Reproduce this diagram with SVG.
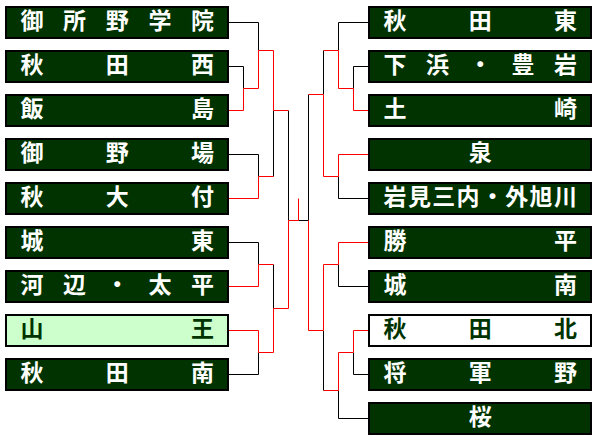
<svg xmlns="http://www.w3.org/2000/svg" width="596" height="441" viewBox="0 0 596 441">
<style>
.b{fill:#003300;stroke:#000;stroke-width:2}
.hl{fill:#CCFFCC;stroke:#000;stroke-width:2}
.wh{fill:#FFFFFF;stroke:#000;stroke-width:2}
.t{font-family:"Noto Sans CJK JP","Noto Sans CJK SC",sans-serif;font-weight:bold;font-size:23px;fill:#FFFFFF;text-anchor:middle}
.d{fill:#003300}
.k{fill:none;stroke:#000;stroke-width:1}
.r{fill:none;stroke:#FF0000;stroke-width:1}
</style>
<rect width="596" height="441" fill="#FFFFFF"/>
<g id="connectors">
<path class="k" d="M228 22.5 H258.5 V50.5 M228 66.5 H243.5 V88.5 M228 154.5 H258.5 V176.5 M273.5 110.5 V176.5 M228 242.5 H258.5 V264.5 M273.5 264.5 V308.5 M258.5 352.5 V374.5 H228 M288.5 110.5 V220.5 M298.5 220.5 H308.5"/>
<path class="k" d="M368 22.5 H338.5 V50.5 M368 66.5 H353.5 V88.5 M323.5 50.5 V94.5 M308.5 94.5 V220.5 M338.5 176.5 V198.5 H368 M338.5 264.5 V286.5 H368 M353.5 352.5 V374.5 H368 M323.5 330.5 V390.5 M338.5 390.5 V418.5 H368"/>
<path class="r" d="M228 110.5 H243.5 V88.5 H258.5 V50.5 H273.5 V110.5 H288.5 M228 198.5 H258.5 V176.5 H273.5 M228 286.5 H258.5 V264.5 H273.5 M228 330.5 H258.5 V352.5 H273.5 V308.5 H288.5 V220.5 H298.5 V198.5"/>
<path class="r" d="M368 110.5 H353.5 V88.5 H338.5 V50.5 H323.5 M368 154.5 H338.5 V176.5 H323.5 V94.5 H308.5 M368 242.5 H338.5 V264.5 H323.5 V330.5 H308.5 V220.5 M368 330.5 H353.5 V352.5 H338.5 V390.5 H323.5"/>
</g>
<g id="L1"><rect class="b" x="6" y="7" width="222" height="31"/><text class="t" x="32 74.6 117.25 159.9 202.5" y="29">御所野学院</text></g>
<g id="L2"><rect class="b" x="6" y="51" width="222" height="31"/><text class="t" x="32 117.25 202.5" y="73">秋田西</text></g>
<g id="L3"><rect class="b" x="6" y="95" width="222" height="31"/><text class="t" x="32 202.5" y="117">飯島</text></g>
<g id="L4"><rect class="b" x="6" y="139" width="222" height="31"/><text class="t" x="32 117.25 202.5" y="161">御野場</text></g>
<g id="L5"><rect class="b" x="6" y="183" width="222" height="31"/><text class="t" x="32 117.25 202.5" y="205">秋大付</text></g>
<g id="L6"><rect class="b" x="6" y="227" width="222" height="31"/><text class="t" x="32 202.5" y="249">城東</text></g>
<g id="L7"><rect class="b" x="6" y="271" width="222" height="31"/><text class="t" x="32 74.6 117.25 159.9 202.5" y="293">河辺・太平</text></g>
<g id="L8"><rect class="hl" x="6" y="315" width="222" height="31"/><text class="t d" x="32 202.5" y="337">山王</text></g>
<g id="L9"><rect class="b" x="6" y="359" width="222" height="31"/><text class="t" x="32 117.25 202.5" y="381">秋田南</text></g>
<g id="R1"><rect class="b" x="369" y="7" width="222" height="31"/><text class="t" x="395 480.25 565.5" y="29">秋田東</text></g>
<g id="R2"><rect class="b" x="369" y="51" width="222" height="31"/><text class="t" x="395 437.6 480.25 522.9 565.5" y="73">下浜・豊岩</text></g>
<g id="R3"><rect class="b" x="369" y="95" width="222" height="31"/><text class="t" x="395 565.5" y="117">土崎</text></g>
<g id="R4"><rect class="b" x="369" y="139" width="222" height="31"/><text class="t" x="480.25" y="161">泉</text></g>
<g id="R5"><rect class="b" x="369" y="183" width="222" height="31"/><text class="t" x="395 419.4 443.7 468.1 492.4 516.8 541.1 565.5" y="205">岩見三内・外旭川</text></g>
<g id="R6"><rect class="b" x="369" y="227" width="222" height="31"/><text class="t" x="395 565.5" y="249">勝平</text></g>
<g id="R7"><rect class="b" x="369" y="271" width="222" height="31"/><text class="t" x="395 565.5" y="293">城南</text></g>
<g id="R8"><rect class="wh" x="369" y="315" width="222" height="31"/><text class="t d" x="395 480.25 565.5" y="337">秋田北</text></g>
<g id="R9"><rect class="b" x="369" y="359" width="222" height="31"/><text class="t" x="395 480.25 565.5" y="381">将軍野</text></g>
<g id="R10"><rect class="b" x="369" y="403" width="222" height="31"/><text class="t" x="480.25" y="425">桜</text></g>
</svg>
